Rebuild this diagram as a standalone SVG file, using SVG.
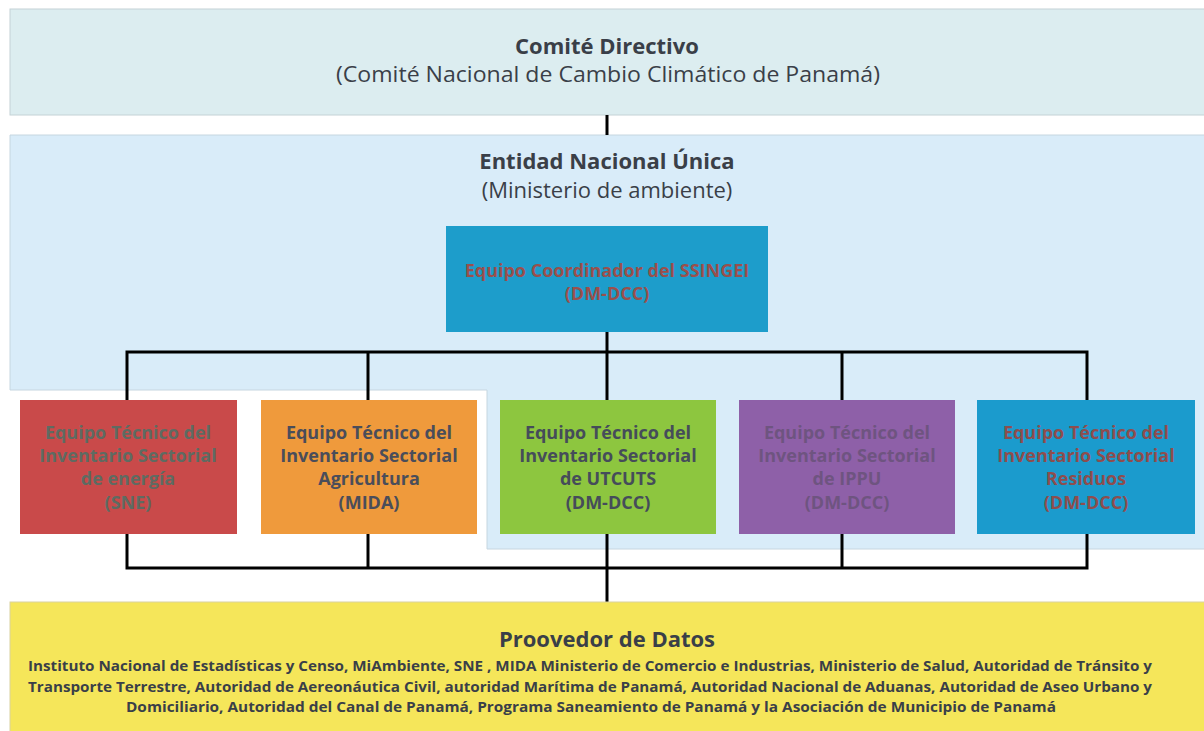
<svg xmlns="http://www.w3.org/2000/svg" width="1204" height="731" viewBox="0 0 1204 731">
<style>
text{font-family:"Open Sans","Noto Sans","Liberation Sans",sans-serif;text-anchor:middle}
.h{font-weight:700;font-size:22px;fill:#3a3f48}
.s{font-size:22px;fill:#3a3f48}
.b{font-weight:700;font-size:18px}
.p{font-weight:700;font-size:13.5px;fill:#3a3f48}
.c{stroke:#000;stroke-width:3;fill:none}
</style>
<rect width="1204" height="731" fill="#ffffff"/>
<g id="comite">
<rect x="10" y="9" width="1200" height="106" fill="#dcedf0" stroke="#c4d2d6" stroke-width="1"/>
<text class="h" x="607" y="54">Comité Directivo</text>
<text class="s" x="608" y="82" textLength="544" lengthAdjust="spacingAndGlyphs">(Comité Nacional de Cambio Climático de Panamá)</text>
</g>
<g id="entidad">
<polygon points="10,135 1210,135 1210,549 487,549 487,390 10,390" fill="#d9ecf9" stroke="#c6d6e0" stroke-width="1"/>
<text class="h" x="607" y="169">Entidad Nacional Única</text>
<text class="s" x="607" y="198">(Ministerio de ambiente)</text>
</g>
<g id="coordinador">
<rect x="446" y="226" width="322" height="106" fill="#1d9dcb"/>
<text class="b" x="607" y="277" fill="#9a4f4c">Equipo Coordinador del SSINGEI</text>
<text class="b" x="607" y="300" fill="#9a4f4c">(DM-DCC)</text>
</g>
<g id="connectors">
<line class="c" x1="607" y1="115" x2="607" y2="135"/>
<line class="c" x1="607" y1="332" x2="607" y2="352"/>
<polyline class="c" points="127,400 127,352 1087,352 1087,400"/>
<line class="c" x1="368" y1="352" x2="368" y2="400"/>
<line class="c" x1="607" y1="352" x2="607" y2="400"/>
<line class="c" x1="842" y1="352" x2="842" y2="400"/>
<polyline class="c" points="127,534 127,568 1087,568 1087,534"/>
<line class="c" x1="368" y1="534" x2="368" y2="568"/>
<line class="c" x1="607" y1="534" x2="607" y2="602"/>
<line class="c" x1="842" y1="534" x2="842" y2="568"/>
</g>
<g id="energia">
<rect x="20" y="400" width="217" height="134" fill="#c94a4a"/>
<g class="b" fill="#5e6b62">
<text x="128" y="439">Equipo Técnico del</text>
<text x="128" y="462">Inventario Sectorial</text>
<text x="128" y="485">de energía</text>
<text x="128" y="509">(SNE)</text>
</g>
</g>
<g id="agricultura">
<rect x="261" y="400" width="216" height="134" fill="#ef9a3c"/>
<g class="b" fill="#4a4d5a">
<text x="369" y="439">Equipo Técnico del</text>
<text x="369" y="462">Inventario Sectorial</text>
<text x="369" y="485">Agricultura</text>
<text x="369" y="509">(MIDA)</text>
</g>
</g>
<g id="utcuts">
<rect x="500" y="400" width="216" height="134" fill="#8dc63f"/>
<g class="b" fill="#454c5a">
<text x="608" y="439">Equipo Técnico del</text>
<text x="608" y="462">Inventario Sectorial</text>
<text x="608" y="485">de UTCUTS</text>
<text x="608" y="509">(DM-DCC)</text>
</g>
</g>
<g id="ippu">
<rect x="739" y="400" width="216" height="134" fill="#8e60a8"/>
<g class="b" fill="#6e5480">
<text x="847" y="439">Equipo Técnico del</text>
<text x="847" y="462">Inventario Sectorial</text>
<text x="847" y="485">de IPPU</text>
<text x="847" y="509">(DM-DCC)</text>
</g>
</g>
<g id="residuos">
<rect x="977" y="400" width="218" height="134" fill="#1b9bcd"/>
<g class="b" fill="#8e4d4d">
<text x="1086" y="439">Equipo Técnico del</text>
<text x="1086" y="462">Inventario Sectorial</text>
<text x="1086" y="485">Residuos</text>
<text x="1086" y="509">(DM-DCC)</text>
</g>
</g>
<g id="proveedor">
<rect x="10" y="602" width="1200" height="135" fill="#f5e65a" stroke="#d9d2a0" stroke-width="1"/>
<text class="h" x="607" y="647">Proovedor de Datos</text>
<text class="p" x="590" y="671" textLength="1124" lengthAdjust="spacingAndGlyphs">Instituto Nacional de Estadísticas y Censo, MiAmbiente, SNE , MIDA Ministerio de Comercio e Industrias, Ministerio de Salud, Autoridad de Tránsito y</text>
<text class="p" x="590" y="692" textLength="1124" lengthAdjust="spacingAndGlyphs">Transporte Terrestre, Autoridad de Aereonáutica Civil, autoridad Marítima de Panamá, Autoridad Nacional de Aduanas, Autoridad de Aseo Urbano y</text>
<text class="p" x="591" y="712" textLength="930" lengthAdjust="spacingAndGlyphs">Domiciliario, Autoridad del Canal de Panamá, Programa Saneamiento de Panamá y la Asociación de Municipio de Panamá</text>
</g>
</svg>
